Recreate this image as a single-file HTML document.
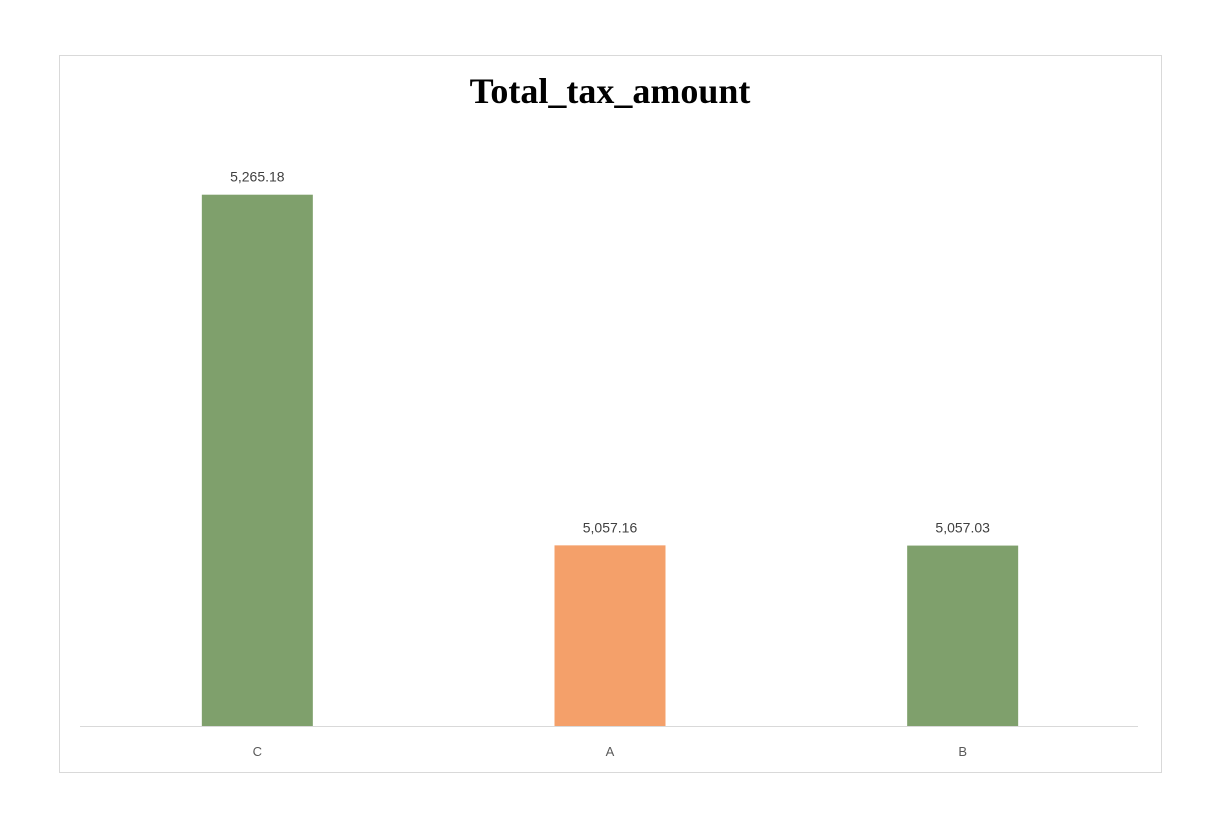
<!DOCTYPE html>
<html><head><meta charset="utf-8"><style>
body{margin:0;background:#fff;width:1211px;height:835px;overflow:hidden}
svg{display:block}
</style></head><body>
<svg width="1211" height="835">
<rect x="59.5" y="55.5" width="1102" height="717" fill="#fff" stroke="#d9d9d9"/>
<text x="610" y="103" text-anchor="middle" font-family="Liberation Serif, serif" font-weight="bold" font-size="36" fill="#000">Total_tax_amount</text>
<g id="bars"></g>
<line x1="80" y1="726.5" x2="1138" y2="726.5" stroke="#d9d9d9" stroke-width="1"/>
</svg>
<script>
const categories = ["C","A","B"];
const values = [5265.18,5057.16,5057.03];
const labels = ["5,265.18","5,057.16","5,057.03"];
const colors = ["#7fa06c","#f4a06a","#7fa06c"];
const yMin = 4950, yMax = 5300;
const plotLeft = 80, plotRight = 1138, plotTop = 136, plotBottom = 726;
const ns = "http://www.w3.org/2000/svg";
function yScale(v){return plotBottom - (v - yMin)/(yMax - yMin)*(plotBottom - plotTop);}
function xCenter(i){const w=(plotRight-plotLeft)/categories.length;return plotLeft + w*(i+0.5);}
const g = document.getElementById("bars");
const bw = 111;
categories.forEach((c,i)=>{
  const cx = xCenter(i), y = yScale(values[i]);
  const r = document.createElementNS(ns,"rect");
  r.setAttribute("x", cx - bw/2 + 1); r.setAttribute("y", y);
  r.setAttribute("width", bw); r.setAttribute("height", plotBottom - y);
  r.setAttribute("fill", colors[i]);
  
  
  g.appendChild(r);
  const t = document.createElementNS(ns,"text");
  t.setAttribute("x", cx + 1); t.setAttribute("y", y - 13);
  t.setAttribute("text-anchor","middle");
  t.setAttribute("font-family","Liberation Sans, sans-serif");
  t.setAttribute("font-size","14"); t.setAttribute("fill","#404040");
  t.textContent = labels[i];
  
  
  g.appendChild(t);
  const l = document.createElementNS(ns,"text");
  l.setAttribute("x", cx + 1); l.setAttribute("y", 756);
  l.setAttribute("text-anchor","middle");
  l.setAttribute("font-family","Liberation Sans, sans-serif");
  l.setAttribute("font-size","13"); l.setAttribute("fill","#595959");
  l.textContent = c;
  
  
  g.appendChild(l);
});
</script>
</body></html>
